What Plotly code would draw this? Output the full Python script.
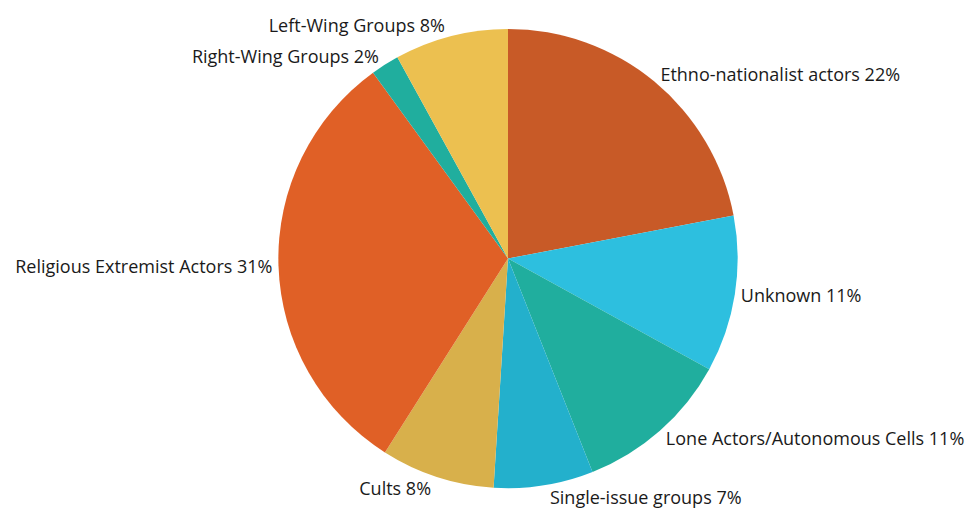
import plotly.graph_objects as go

labels = ["Ethno-nationalist actors", "Unknown", "Lone Actors/Autonomous Cells",
          "Single-issue groups", "Cults", "Religious Extremist Actors",
          "Right-Wing Groups", "Left-Wing Groups"]
values = [22, 11, 11, 7, 8, 31, 2, 8]
colors = ["#C85A27", "#2DBFDF", "#20AE9E", "#23B0CC", "#D8B04B", "#E06026",
          "#20AE9E", "#ECC050"]

fig = go.Figure(go.Pie(
    labels=labels, values=values, sort=False, direction="clockwise", rotation=0,
    marker=dict(colors=colors, line=dict(width=0)),
    texttemplate="%{label} %{value}%", textposition="outside",
    textfont=dict(family="Open Sans, sans-serif", size=18, color="#1a1a1a"),
    domain=dict(x=[269/980, 731/980], y=[32/512, 494/512]),
    hoverinfo="label+percent", showlegend=False,
))
fig.update_layout(width=980, height=512, margin=dict(l=0, r=0, t=0, b=0),
                  paper_bgcolor="white", plot_bgcolor="white")
fig.write_html("out.html")
